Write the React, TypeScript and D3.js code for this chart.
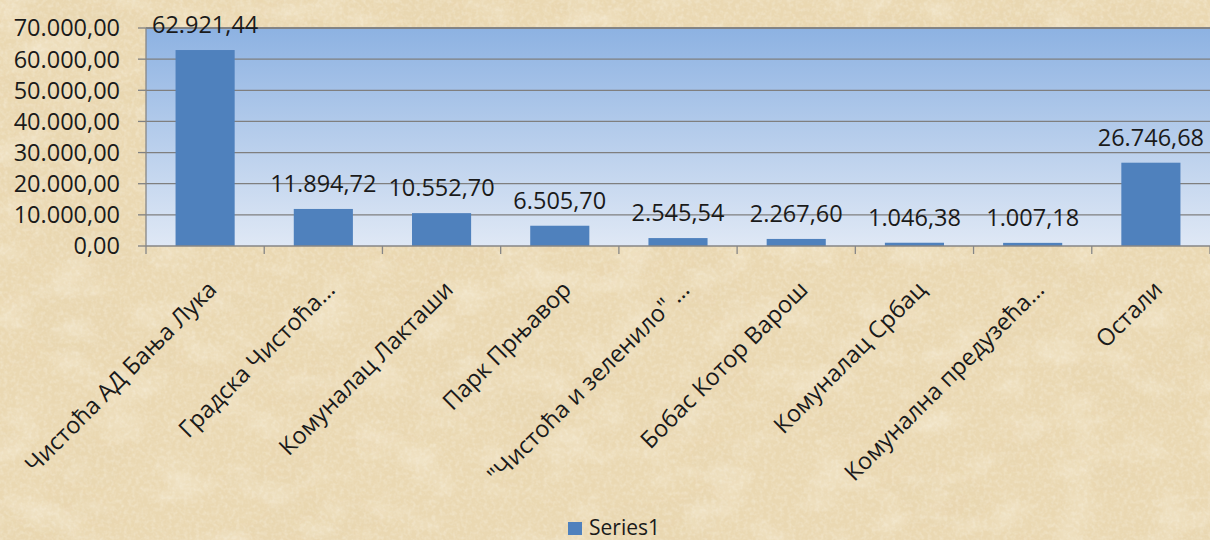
import React from 'react';
import * as d3 from 'd3';

// data
const categories = [
  'Чистоћа АД Бања Лука',
  'Градска Чистоћа…',
  'Комуналац Лакташи',
  'Парк Прњавор',
  '"Чистоћа и зеленило" …',
  'Бобас Котор Варош',
  'Комуналац Србац',
  'Комунална предузећа…',
  'Остали'
];
const values = [62921.44, 11894.72, 10552.70, 6505.70, 2545.54, 2267.60, 1046.38, 1007.18, 26746.68];
const yTicks = [0, 10000, 20000, 30000, 40000, 50000, 60000, 70000];
const seriesName = 'Series1';

const locale = d3.formatLocale({decimal: ',', thousands: '.', grouping: [3], currency: ['', '']});
const fmt = locale.format(',.2f');

const W = 1210, H = 540;
const margin = {top: 28, right: 0, bottom: 294, left: 146};
const FONT = '"Open Sans", "Noto Sans", sans-serif';

export default function App() {
  const w = W - margin.left - margin.right;
  const h = H - margin.top - margin.bottom;

  const x = d3.scaleBand<string>()
    .domain(categories)
    .range([0, w])
    .paddingInner(0.5)
    .paddingOuter(0.25);

  const y = d3.scaleLinear()
    .domain([0, 70000])
    .range([h, 0]);

  const step = x.step();
  const bounds = d3.range(categories.length + 1).map(i => i * step);

  return (
    <div style={{position: 'fixed', left: 0, top: 0}}>
      <svg width={W} height={H} style={{display: 'block'}}>
        <defs>
          <linearGradient id="plotBg" x1="0" y1="0" x2="0" y2="1">
            <stop offset="0%" stopColor="#8db2e2" />
            <stop offset="100%" stopColor="#dfe8f5" />
          </linearGradient>
          <filter id="parch" x="0" y="0" width="100%" height="100%">
            <feTurbulence type="fractalNoise" baseFrequency="0.008 0.014" numOctaves="5" seed="7" result="n" />
            <feColorMatrix in="n" type="matrix"
              values="0 0 0 0 0.80  0 0 0 0 0.66  0 0 0 0 0.42  1.3 0 0 0 -0.6" />
          </filter>
          <filter id="light" x="0" y="0" width="100%" height="100%">
            <feTurbulence type="fractalNoise" baseFrequency="0.02 0.03" numOctaves="4" seed="11" result="l" />
            <feColorMatrix in="l" type="matrix"
              values="0 0 0 0 0.96  0 0 0 0 0.91  0 0 0 0 0.78  1.0 0 0 0 -0.5" />
          </filter>
          <filter id="grain" x="0" y="0" width="100%" height="100%">
            <feTurbulence type="fractalNoise" baseFrequency="0.25" numOctaves="2" seed="3" result="g" />
            <feColorMatrix in="g" type="matrix"
              values="0 0 0 0 0.98  0 0 0 0 0.95  0 0 0 0 0.86  1.4 0 0 0 -0.55" />
          </filter>
        </defs>

        <rect width={W} height={H} fill="#ead8b2" />
        <rect width={W} height={H} filter="url(#parch)" />
        <rect width={W} height={H} filter="url(#light)" />
        <rect width={W} height={H} filter="url(#grain)" opacity={0.45} />

        <g transform={`translate(${margin.left},${margin.top})`}>
          <rect x={0} y={0} width={w} height={h} fill="url(#plotBg)" />
          <line x1={0} x2={w} y1={0} y2={0} stroke="#7f7f7f" strokeWidth={1.3} />

          {yTicks.map(t => (
            <g key={t}>
              {t > 0 && <line x1={0} x2={w} y1={y(t)} y2={y(t)} stroke="#7f7f7f" strokeWidth={1.3} />}
              <line x1={-8} x2={0} y1={y(t)} y2={y(t)} stroke="#7f7f7f" strokeWidth={1.3} />
              <text x={-26} y={y(t)} dy="0.36em" textAnchor="end"
                fontFamily={FONT} fontSize={23.5} fill="#1a1a1a">{fmt(t)}</text>
            </g>
          ))}

          {categories.map((c, i) => (
            <rect key={c} x={x(c)} y={y(values[i])} width={x.bandwidth()}
              height={h - y(values[i])} fill="#4f81bd" />
          ))}

          {categories.map((c, i) => (
            <text key={c} x={(x(c) as number) + x.bandwidth() / 2} y={y(values[i]) - 17}
              textAnchor="middle" fontFamily={FONT} fontSize={23.5} fill="#1a1a1a">
              {fmt(values[i])}
            </text>
          ))}

          <line x1={0} x2={0} y1={0} y2={h} stroke="#868686" strokeWidth={1.3} />
          <line x1={0} x2={w} y1={h} y2={h} stroke="#868686" strokeWidth={1.3} />
          {bounds.map(b => (
            <line key={b} x1={b} x2={b} y1={h} y2={h + 8} stroke="#868686" strokeWidth={1.3} />
          ))}

          {categories.map(c => {
            const cx = (x(c) as number) + x.bandwidth() / 2 + 13;
            const cy = h + 45;
            return (
              <text key={c} transform={`translate(${cx},${cy}) rotate(-45)`} textAnchor="end"
                fontFamily={FONT} fontSize={23.5} fill="#1a1a1a">{c}</text>
            );
          })}
        </g>

        <g transform="translate(568,522)">
          <rect x={0} y={0} width={14} height={13} fill="#4f81bd" />
          <text x={21} y={13} fontFamily={FONT} fontSize={21} fill="#1a1a1a">{seriesName}</text>
        </g>
      </svg>
    </div>
  );
}
